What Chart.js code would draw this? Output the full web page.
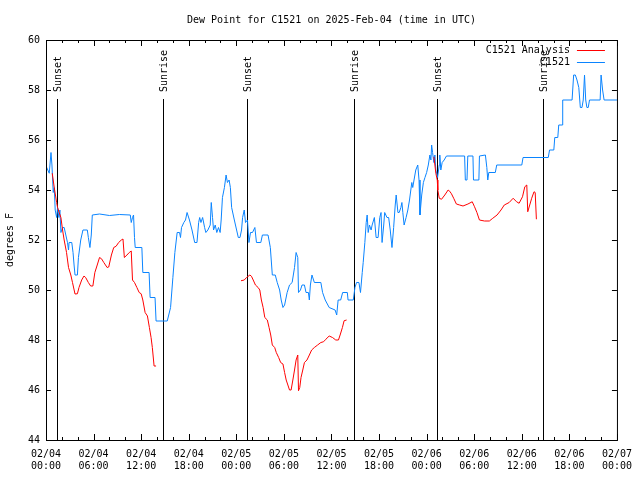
<!DOCTYPE html>
<html>
<head>
<meta charset="utf-8">
<script src="https://cdn.jsdelivr.net/npm/chart.js@4"></script>
<style>
  body { margin: 0; background: #fff; }
  canvas { display: block; }
</style>
</head>
<body>
<canvas id="dewChart" width="640" height="480"></canvas>
<script>
// hours since 02/04 00:00 UTC
const stationTimes = [
  0, 0.41, 0.63, 0.75, 0.91, 1.04, 1.16, 1.34, 1.46, 1.63, 1.75, 1.88, 2.09, 2.29, 2.5, 2.71, 2.84, 2.91, 3.25, 3.41,
  3.54, 3.66, 3.96, 4.09, 4.38, 4.66, 5.21, 5.34, 5.54, 5.71, 5.84, 6.75, 8.0, 9.25, 10.63, 10.75, 10.91, 11.04, 11.16, 11.25,
  12.09, 12.21, 13.0, 13.13, 13.75, 13.88, 15.29, 15.71, 16.0, 16.25, 16.54, 16.84, 16.96, 17.09, 17.38, 17.59, 17.79, 18.09, 18.41, 18.75,
  19.04, 19.25, 19.38, 19.54, 19.75, 20.0, 20.16, 20.41, 20.71, 20.84, 21.0, 21.13, 21.34, 21.54, 21.75, 21.96, 22.09, 22.25, 22.5, 22.71,
  22.88, 23.09, 23.25, 23.41, 23.75, 24.25, 24.46, 24.66, 24.79, 25.0, 25.16, 25.41, 25.59, 25.79, 26.04, 26.34, 26.54, 27.09, 27.29, 28.0,
  28.29, 28.54, 28.91, 29.16, 29.46, 29.66, 29.88, 30.09, 30.41, 30.71, 31.04, 31.34, 31.54, 31.75, 31.84, 32.09, 32.29, 32.59, 32.79, 33.09,
  33.21, 33.34, 33.54, 33.84, 34.66, 34.88, 35.21, 35.71, 36.46, 36.66, 36.84, 37.16, 37.41, 38.0, 38.09, 38.75, 38.96, 39.16, 39.46, 39.66,
  39.88, 40.0, 40.21, 40.38, 40.5, 40.63, 40.79, 41.0, 41.13, 41.41, 41.63, 41.88, 42.09, 42.25, 42.38, 42.59, 42.71, 43.0, 43.21, 43.41,
  43.63, 43.84, 44.04, 44.16, 44.38, 44.54, 44.75, 44.88, 45.0, 45.16, 45.41, 45.63, 45.84, 46.13, 46.25, 46.41, 46.63, 46.88, 47.04, 47.16,
  47.38, 47.59, 47.79, 48.0, 48.21, 48.41, 48.54, 48.63, 48.75, 48.91, 49.04, 49.16, 49.38, 49.59, 49.66, 49.79, 49.96, 50.21, 50.5, 52.79,
  52.88, 53.09, 53.19, 53.84, 53.91, 54.59, 54.66, 55.41, 55.59, 55.71, 55.84, 56.66, 56.84, 60.0, 60.16, 63.34, 63.5, 64.04, 64.16, 64.54,
  64.66, 65.09, 65.16, 66.34, 66.54, 66.75, 66.96, 67.19, 67.38, 67.59, 67.75, 67.91, 68.06, 68.21, 68.38, 68.54, 69.88, 70.0, 70.19, 70.38,
  72.0
];
const stationValues = [
  54.96, 54.67, 55.5, 55.0, 53.9, 54.1, 53.2, 52.9, 53.3, 52.9, 53.2, 52.3, 52.5, 52.5, 52.2, 51.9, 51.6, 51.9, 51.9, 51.5,
  51.0, 50.6, 50.6, 51.3, 52.0, 52.4, 52.4, 52.1, 51.7, 52.2, 53.0, 53.04, 52.98, 53.02, 53.0, 52.7, 52.9, 53.0, 52.1, 51.7,
  51.7, 50.7, 50.7, 49.7, 49.7, 48.76, 48.76, 49.3, 50.5, 51.5, 52.3, 52.3, 52.1, 52.5, 52.7, 52.8, 53.1, 52.8, 52.4, 51.9,
  51.9, 52.7, 52.9, 52.7, 52.9, 52.5, 52.3, 52.4, 52.6, 53.5, 52.9, 52.4, 52.6, 52.3, 52.5, 52.3, 52.8, 53.7, 54.1, 54.6,
  54.3, 54.4, 54.1, 53.3, 52.8, 52.1, 52.1, 52.4, 52.9, 53.2, 52.7, 52.8, 51.9, 52.3, 52.3, 52.5, 51.9, 51.9, 52.2, 52.2,
  51.7, 50.6, 50.6, 50.3, 50.0, 49.6, 49.3, 49.4, 49.9, 50.2, 50.3, 50.9, 51.5, 51.3, 49.9, 50.0, 50.2, 50.2, 49.9, 49.9,
  49.6, 50.2, 50.6, 50.3, 50.3, 49.9, 49.6, 49.3, 49.2, 49.0, 49.6, 49.6, 49.9, 49.9, 49.6, 49.6, 50.1, 50.3, 50.3, 49.9,
  50.7, 51.1, 51.9, 52.7, 53.0, 52.3, 52.6, 52.4, 52.6, 52.9, 52.1, 52.1, 52.9, 53.1, 51.9, 52.6, 53.1, 52.9, 52.9, 52.4,
  51.7, 52.5, 53.4, 53.8, 53.1, 53.1, 53.3, 53.5, 53.1, 52.6, 52.9, 53.2, 53.6, 54.3, 54.1, 54.4, 54.8, 55.0, 54.4, 53.0,
  53.8, 54.3, 54.5, 54.7, 55.0, 55.4, 55.2, 55.8, 55.5, 55.1, 55.4, 54.8, 54.5, 55.0, 55.4, 54.8, 55.1, 55.2, 55.36, 55.36,
  54.4, 54.4, 55.36, 55.36, 54.4, 54.4, 55.36, 55.4, 54.9, 54.4, 54.7, 54.7, 55.0, 55.0, 55.3, 55.3, 55.6, 55.6, 56.1, 56.1,
  56.6, 56.6, 57.6, 57.6, 58.6, 58.6, 58.4, 58.1, 57.3, 57.3, 57.6, 58.6, 57.6, 57.3, 57.3, 57.6, 57.6, 58.6, 58.0, 57.6,
  57.6
];

const analysisTimes = [
  0.79, 1.04, 1.34, 1.46, 1.66, 1.88, 2.09, 2.29, 2.59, 2.84, 3.13, 3.34, 3.66, 3.96, 4.16, 4.5, 4.79, 5.0, 5.34, 5.63,
  5.91, 6.16, 6.46, 6.75, 7.0, 7.29, 7.71, 7.91, 8.25, 8.54, 8.84, 9.16, 9.5, 9.71, 9.88, 10.21, 10.5, 10.75, 10.91, 11.16,
  11.46, 11.75, 12.0, 12.21, 12.5, 12.79, 13.04, 13.25, 13.41, 13.63, 13.88,
  19.0,
  24.59, 25.0, 25.29, 25.71, 25.91, 26.13, 26.41, 26.75, 26.96, 27.16, 27.38, 27.59, 27.91, 28.13, 28.34, 28.54, 28.84, 29.04, 29.34, 29.59,
  29.88, 30.09, 30.29, 30.5, 30.71, 30.91, 31.13, 31.34, 31.54, 31.75, 31.84, 32.0, 32.16, 32.38, 32.59, 32.91, 33.21, 33.5, 33.84, 34.25,
  34.66, 35.0, 35.29, 35.71, 36.13, 36.54, 36.88, 37.09, 37.38, 37.59, 37.91,
  43.0,
  48.91, 49.04, 49.16, 49.34, 49.41, 49.59, 49.88, 50.29, 50.71, 50.91, 51.13, 51.41, 51.75, 52.16, 52.59, 53.21, 53.75, 54.04, 54.34, 54.66,
  55.29, 55.91, 56.34, 56.88, 57.38, 57.79, 58.41, 58.91, 59.34, 59.66, 60.09, 60.38, 60.63, 60.75, 61.0, 61.25, 61.54, 61.69, 61.84
];
const analysisValues = [
  54.67, 54.1, 53.5, 53.3, 53.1, 52.9, 52.4, 52.0, 51.5, 50.9, 50.6, 50.3, 49.84, 49.85, 50.1, 50.4, 50.56, 50.5, 50.3, 50.16,
  50.16, 50.7, 51.0, 51.3, 51.25, 51.1, 50.9, 50.92, 51.4, 51.7, 51.75, 51.9, 52.0, 52.04, 51.3, 51.4, 51.5, 51.56, 50.4, 50.3,
  50.1, 49.9, 49.85, 49.6, 49.1, 48.96, 48.5, 48.1, 47.7, 46.96, 46.96,
  null,
  50.37, 50.4, 50.5, 50.6, 50.55, 50.4, 50.2, 50.1, 50.0, 49.6, 49.3, 48.9, 48.8, 48.5, 48.2, 47.8, 47.7, 47.5, 47.3, 47.1,
  47.04, 46.7, 46.4, 46.2, 46.0, 46.0, 46.4, 46.8, 47.2, 47.4, 45.97, 46.1, 46.5, 46.8, 47.1, 47.2, 47.4, 47.6, 47.7, 47.8,
  47.9, 47.93, 48.03, 48.16, 48.1, 48.0, 48.0, 48.2, 48.5, 48.77, 48.8,
  null,
  55.33, 55.0, 54.67, 54.4, 54.0, 53.67, 53.63, 53.8, 54.0, 53.95, 53.85, 53.67, 53.44, 53.4, 53.36, 53.44, 53.53, 53.33, 53.1, 52.8,
  52.76, 52.76, 52.87, 53.0, 53.2, 53.4, 53.5, 53.67, 53.53, 53.47, 53.73, 54.13, 54.2, 53.13, 53.4, 53.67, 53.93, 53.9, 52.83
];

const sunTimes = [1.42, 14.79, 25.29, 38.79, 49.29, 62.63];
const sunLabels = ['Sunset', 'Sunrise', 'Sunset', 'Sunrise', 'Sunset', 'Sunrise'];

const xTickLabels = [
  ['02/04', '00:00'], ['02/04', '06:00'], ['02/04', '12:00'], ['02/04', '18:00'],
  ['02/05', '00:00'], ['02/05', '06:00'], ['02/05', '12:00'], ['02/05', '18:00'],
  ['02/06', '00:00'], ['02/06', '06:00'], ['02/06', '12:00'], ['02/06', '18:00'],
  ['02/07', '00:00']
];

const titleText = 'Dew Point for C1521 on 2025-Feb-04 (time in UTC)';
const yTitle = 'degrees F';

const RED = '#ff0000';
const BLUE = '#0a84ff';
const FONT = '10px "DejaVu Sans Mono"';

function toPoints(times, values) {
    return times.map((t, i) => ({ x: t, y: values[i] }));
}

const decorations = {
    id: 'decorations',
    beforeDatasetsDraw(chart) {
        const ctx = chart.ctx;
        const area = chart.chartArea;
        const xs = chart.scales.x;
        ctx.save();
        ctx.strokeStyle = '#000';
        ctx.lineWidth = 1;
        ctx.fillStyle = '#000';
        ctx.font = FONT;
        sunTimes.forEach((t, i) => {
            const px = Math.round(xs.getPixelForValue(t)) + 0.5;
            ctx.beginPath();
            ctx.moveTo(px, area.top + 59);
            ctx.lineTo(px, area.bottom);
            ctx.stroke();
            // label reads bottom to top, starting just above the line
            ctx.save();
            ctx.translate(px + 1, area.top + 52);
            ctx.rotate(-Math.PI / 2);
            ctx.textAlign = 'left';
            ctx.textBaseline = 'middle';
            ctx.fillText(sunLabels[i], 0, 0);
            ctx.restore();
        });
        ctx.restore();
    },
    afterDraw(chart) {
        const ctx = chart.ctx;
        const area = chart.chartArea;
        const xs = chart.scales.x;
        const ys = chart.scales.y;
        ctx.save();
        ctx.strokeStyle = '#000';
        ctx.lineWidth = 1;

        // frame
        ctx.strokeRect(area.left + 0.5, area.top + 0.5, area.right - area.left, area.bottom - area.top);

        // x ticks, inward on bottom and top, minor every 2 h
        ctx.beginPath();
        for (let h = 0; h <= 72; h += 2) {
            const px = Math.round(xs.getPixelForValue(h)) + 0.5;
            const len = (h % 6 === 0) ? 6 : 3;
            ctx.moveTo(px, area.bottom);
            ctx.lineTo(px, area.bottom - len);
            ctx.moveTo(px, area.top);
            ctx.lineTo(px, area.top + len);
        }
        // y ticks, both sides
        ys.ticks.forEach(tk => {
            const py = Math.round(ys.getPixelForValue(tk.value)) + 0.5;
            ctx.moveTo(area.left, py);
            ctx.lineTo(area.left + 5, py);
            ctx.moveTo(area.right, py);
            ctx.lineTo(area.right - 5, py);
        });
        ctx.stroke();

        ctx.fillStyle = '#000';
        ctx.font = FONT;

        // title
        ctx.textAlign = 'center';
        ctx.textBaseline = 'middle';
        ctx.fillText(titleText, (area.left + area.right) / 2, 20);

        // y axis title
        ctx.save();
        ctx.translate(10, (area.top + area.bottom) / 2);
        ctx.rotate(-Math.PI / 2);
        ctx.fillText(yTitle, 0, 0);
        ctx.restore();

        // legend, top right inside the plot
        const items = [
            { label: 'C1521 Analysis', color: RED },
            { label: 'C1521', color: BLUE }
        ];
        items.forEach((it, i) => {
            const y = area.top + 10 + i * 12;
            ctx.fillStyle = '#000';
            ctx.textAlign = 'right';
            ctx.fillText(it.label, area.right - 47, y);
            ctx.strokeStyle = it.color;
            ctx.beginPath();
            ctx.moveTo(area.right - 40, Math.round(y) + 0.5);
            ctx.lineTo(area.right - 12, Math.round(y) + 0.5);
            ctx.stroke();
        });
        ctx.restore();
    }
};

document.addEventListener('DOMContentLoaded', () => {
    const ctx = document.getElementById('dewChart').getContext('2d');

    Chart.defaults.font.family = '"DejaVu Sans Mono"';
    Chart.defaults.font.size = 10;
    Chart.defaults.color = '#000';

    new Chart(ctx, {
        type: 'line',
        data: {
            datasets: [
                {
                    label: 'C1521 Analysis',
                    data: toPoints(analysisTimes, analysisValues),
                    borderColor: RED,
                    borderWidth: 1,
                    pointRadius: 0,
                    tension: 0,
                    spanGaps: false
                },
                {
                    label: 'C1521',
                    data: toPoints(stationTimes, stationValues),
                    borderColor: BLUE,
                    borderWidth: 1,
                    pointRadius: 0,
                    tension: 0
                }
            ]
        },
        options: {
            responsive: false,
            animation: false,
            events: [],
            layout: {
                padding: { top: 40, right: 18, left: 0, bottom: 0 }
            },
            plugins: {
                legend: { display: false },
                title: { display: false },
                tooltip: { enabled: false }
            },
            scales: {
                x: {
                    type: 'linear',
                    min: 0,
                    max: 72,
                    afterFit: (scale) => { scale.height = 40; },
                    grid: { display: false, drawTicks: false },
                    border: { display: false },
                    ticks: {
                        stepSize: 6,
                        autoSkip: false,
                        maxRotation: 0,
                        padding: 8,
                        callback: (value, index) => xTickLabels[index]
                    }
                },
                y: {
                    min: 44,
                    max: 60,
                    afterFit: (scale) => { scale.width = 46; },
                    grid: { display: false, drawTicks: false },
                    border: { display: false },
                    ticks: {
                        stepSize: 2,
                        padding: 6
                    }
                }
            }
        },
        plugins: [decorations]
    });
});
</script>
</body>
</html>
